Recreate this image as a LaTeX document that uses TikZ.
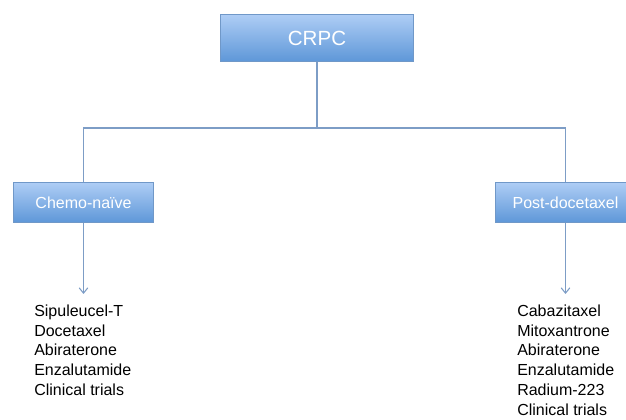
\documentclass[tikz,border=0pt]{standalone}
\usepackage{fontspec}
\setmainfont{Liberation Sans}
\usetikzlibrary{arrows.meta}
\definecolor{boxtop}{HTML}{AECDF5}
\definecolor{boxbot}{HTML}{5E97D8}
\definecolor{boxedge}{HTML}{7098C8}
\definecolor{linecol}{HTML}{7D9DC6}
\tikzset{
  bluebox/.style={draw=boxedge, line width=0.75pt, top color=boxtop, bottom color=boxbot,
    text=white, inner sep=0pt, anchor=north west},
  conn/.style={draw=linecol, line width=0.9pt},
  arr/.style={conn, -{Straight Barb[length=4pt,width=6.5pt,line width=0.8pt]}},
  drugs/.style={anchor=north west, inner sep=0pt, align=left,
    font=\fontsize{12}{14.8}\selectfont, text=black}
}
\begin{document}
\begin{tikzpicture}[x=0.75pt,y=-0.75pt]
\useasboundingbox (0,0) rectangle (626,420);
\fill[white] (0,0) rectangle (626,420);
\node[bluebox, minimum width=144.75pt, minimum height=35.25pt, font=\fontsize{15.4}{18}\selectfont] (crpc) at (220,14) {CRPC};
\node[bluebox, minimum width=105pt, minimum height=30pt, font=\fontsize{12}{14}\selectfont] (chemo) at (13,182) {Chemo-naïve};
\node[bluebox, minimum width=105pt, minimum height=30pt, font=\fontsize{12}{14}\selectfont] (post) at (495,182) {Post-docetaxel};
\coordinate (split) at (crpc.south |- 0,128);
\coordinate (tipA) at (chemo.south |- 0,294);
\coordinate (tipB) at (post.south |- 0,294);
\draw[conn] (crpc.south) -- (split);
\draw[conn] (split) -| (chemo.north);
\draw[conn] (split) -| (post.north);
\draw[arr] (chemo.south) -- (tipA);
\draw[arr] (post.south) -- (tipB);
\node[drugs] (listA) at (34,304.5) {Sipuleucel-T\\Docetaxel\\Abiraterone\\Enzalutamide\\Clinical trials};
\node[drugs] (listB) at (517,304.5) {Cabazitaxel\\Mitoxantrone\\Abiraterone\\Enzalutamide\\Radium-223\\Clinical trials};
\end{tikzpicture}
\end{document}
